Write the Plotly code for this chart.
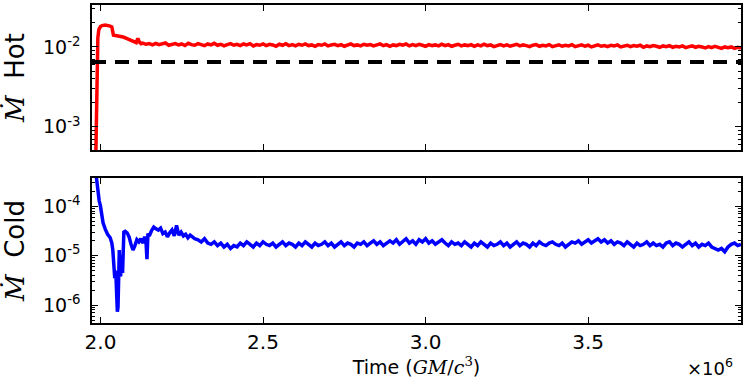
import numpy as np
import plotly.graph_objects as go
from plotly.subplots import make_subplots

# ---- data ----
# hot accretion rate, early transient (time in units of 1e6 GM/c^3, mdot in 1e-2)
hot_t_early = [1.983, 1.986, 1.988, 1.990, 1.992, 1.995, 2.000, 2.005, 2.010, 2.015,
               2.020, 2.025, 2.030, 2.035, 2.038, 2.040, 2.050, 2.060, 2.070, 2.080,
               2.090, 2.100, 2.110, 2.115, 2.120, 2.125]
hot_early = [0.01, 0.05, 0.2, 0.7, 1.3, 1.65, 1.8, 1.85, 1.88, 1.88,
             1.86, 1.85, 1.82, 1.78, 1.45, 1.40, 1.38, 1.36, 1.33, 1.28,
             1.22, 1.17, 1.13, 1.28, 1.15, 1.10]
# steady part, sampled every 0.01 from 2.13 to 3.97
hot_steady = [
    1.12, 1.08, 1.10, 1.06, 1.11, 1.07, 1.09, 1.12, 1.05, 1.08,
    1.10, 1.06, 1.09, 1.04, 1.11, 1.07, 1.05, 1.10, 1.08, 1.04,
    1.09, 1.06, 1.11, 1.05, 1.08, 1.03, 1.07, 1.10, 1.05, 1.08,
    1.04, 1.09, 1.06, 1.10, 1.03, 1.07, 1.05, 1.09, 1.04, 1.08,
    1.06, 1.02, 1.08, 1.05, 1.10, 1.04, 1.07, 1.03, 1.08, 1.05,
    1.09, 1.04, 1.06, 1.02, 1.07, 1.05, 1.09, 1.03, 1.06, 1.08,
    1.04, 1.07, 1.02, 1.06, 1.09, 1.04, 1.06, 1.03, 1.08, 1.05,
    1.07, 1.03, 1.06, 1.09, 1.04, 1.07, 1.02, 1.06, 1.04, 1.08,
    1.05, 1.09, 1.03, 1.07, 1.04, 1.08, 1.05, 1.02, 1.07, 1.04,
    1.06, 1.03, 1.08, 1.04, 1.07, 1.02, 1.05, 1.08, 1.03, 1.06,
    1.04, 1.07, 1.02, 1.06, 1.03, 1.08, 1.04, 1.06, 1.01, 1.05,
    1.07, 1.03, 1.06, 1.02, 1.05, 1.08, 1.03, 1.06, 1.04, 1.01,
    1.05, 1.07, 1.02, 1.05, 1.03, 1.07, 1.01, 1.04, 1.06, 1.02,
    1.05, 1.03, 1.07, 1.01, 1.04, 1.06, 1.02, 1.05, 1.00, 1.04,
    1.06, 1.02, 1.04, 1.01, 1.05, 1.03, 1.06, 1.00, 1.03, 1.05,
    1.01, 1.04, 1.02, 1.05, 0.99, 1.03, 1.01, 1.04, 1.02, 0.99,
    1.03, 1.01, 1.04, 0.99, 1.02, 1.00, 1.03, 0.98, 1.01, 1.03,
    0.99, 1.02, 1.00, 0.97, 1.01, 0.98, 1.02, 0.99, 0.96, 1.00,
    0.98, 1.00, 0.96, 0.99, 0.97]
hot_steady_start = 2.13

hot_reference = 6.5e-3  # dashed reference level

# cold accretion rate (mdot in 1e-5)
cold_t_early = [1.984, 1.988, 1.992, 1.996, 2.000, 2.004, 2.008, 2.015, 2.022, 2.030,
                2.035, 2.038, 2.041, 2.044, 2.047, 2.050, 2.052, 2.054, 2.056, 2.058,
                2.060, 2.062, 2.065, 2.068, 2.072, 2.076, 2.082, 2.088, 2.094, 2.100,
                2.106, 2.112, 2.118, 2.124, 2.130, 2.136, 2.140, 2.143, 2.146, 2.150,
                2.157, 2.164, 2.171, 2.178, 2.185, 2.192, 2.199, 2.206, 2.213, 2.220,
                2.227, 2.234, 2.241, 2.248, 2.255, 2.262, 2.269, 2.276, 2.283, 2.290]
cold_early = [60, 35, 20, 13, 10, 6.5, 4.6, 3.4, 2.7, 2.3,
              1.8, 1.3, 0.6, 0.35, 0.5, 0.12, 0.074, 0.09, 0.3, 1.3,
              0.5, 0.38, 1.0, 0.45, 3.0, 3.1, 2.9, 2.4, 1.7, 1.3,
              1.6, 2.1, 1.9, 2.2, 1.8, 2.4, 2.0, 0.85, 2.8, 2.5,
              3.2, 3.8, 3.5, 3.3, 3.6, 2.8, 3.0, 2.4, 2.9, 3.3,
              2.5, 4.1, 2.6, 3.0, 2.5, 2.7, 2.3, 2.6, 2.4, 2.2]
# steady part, sampled every 0.01 from 2.30 to 3.97
cold_steady = [
    2.1, 1.9, 2.2, 1.8, 1.7, 1.9, 1.6, 1.8, 1.5, 1.7,
    1.4, 1.6, 1.5, 1.8, 1.6, 1.9, 1.7, 1.5, 1.8, 1.6,
    1.9, 1.7, 1.6, 1.8, 1.5, 1.7, 1.9, 1.6, 1.8, 1.7,
    1.5, 1.8, 1.6, 1.9, 1.7, 1.5, 1.8, 1.6, 1.7, 1.9,
    1.6, 1.8, 1.5, 1.7, 1.9, 1.6, 1.8, 1.7, 1.5, 1.8,
    1.7, 1.9, 1.6, 1.8, 2.0, 1.7, 1.9, 1.6, 1.8, 2.0,
    1.8, 2.1, 1.7, 1.9, 2.2, 1.8, 2.0, 1.7, 2.1, 1.9,
    2.2, 1.8, 2.0, 1.7, 1.9, 2.1, 1.8, 1.6, 1.9, 1.7,
    1.8, 1.6, 1.9, 1.7, 1.5, 1.8, 1.6, 1.9, 1.7, 1.5,
    1.8, 1.6, 1.7, 1.9, 1.6, 1.8, 1.5, 1.7, 1.9, 1.6,
    1.8, 1.7, 1.5, 1.8, 1.6, 1.9, 1.7, 1.6, 1.8, 1.9,
    1.7, 1.6, 1.8, 1.5, 1.7, 1.9, 1.8, 2.0, 1.7, 1.9,
    2.1, 1.8, 2.0, 2.2, 1.9, 2.1, 1.8, 2.0, 1.7, 1.9,
    1.8, 1.6, 1.9, 1.7, 1.5, 1.8, 1.6, 1.7, 1.9, 1.6,
    1.8, 1.6, 1.7, 1.5, 1.8, 1.9, 1.6, 1.8, 1.7, 1.5,
    1.7, 1.9, 1.6, 1.8, 1.5, 1.7, 1.6, 1.8, 1.5, 1.4,
    1.3, 1.4, 1.2, 1.5, 1.7, 1.8, 1.6, 1.7]
cold_steady_start = 2.30
sample_step = 0.01

x_ticks = [2.0, 2.5, 3.0, 3.5]
x_range = [1.974, 3.97]

# ---- assemble series ----
hot_t = np.concatenate([hot_t_early, hot_steady_start + sample_step * np.arange(len(hot_steady))]) * 1e6
hot_y = np.concatenate([hot_early, hot_steady]) * 1e-2
cold_t = np.concatenate([cold_t_early, cold_steady_start + sample_step * np.arange(len(cold_steady))]) * 1e6
cold_y = np.concatenate([cold_early, cold_steady]) * 1e-5

fig = make_subplots(rows=2, cols=1, shared_xaxes=True, vertical_spacing=0.088)

fig.add_trace(go.Scatter(x=hot_t, y=hot_y, mode='lines',
                         line=dict(color='red', width=3.5), showlegend=False), row=1, col=1)
fig.add_trace(go.Scatter(x=[x_range[0] * 1e6, x_range[1] * 1e6], y=[hot_reference, hot_reference],
                         mode='lines', line=dict(color='black', width=4, dash='14px,9px'),
                         showlegend=False), row=1, col=1)
fig.add_trace(go.Scatter(x=cold_t, y=cold_y, mode='lines',
                         line=dict(color='blue', width=3.5), showlegend=False), row=2, col=1)

font = 'DejaVu Sans, sans-serif'
common_x = dict(range=[x_range[0] * 1e6, x_range[1] * 1e6], showline=True, linecolor='black',
                linewidth=1.5, mirror='ticks', ticks='inside', ticklen=6, tickcolor='black',
                tickvals=[v * 1e6 for v in x_ticks], ticktext=[f'{v:.1f}' for v in x_ticks],
                showgrid=False, zeroline=False, automargin=False,
                tickfont=dict(family=font, size=20, color='black'))
fig.update_xaxes(**common_x)
fig.update_xaxes(showticklabels=False, row=1, col=1)
fig.update_xaxes(title=dict(text='Time (<span style="font-family:DejaVu Serif"><i>GM</i>/<i>c</i><sup>3</sup></span>)',
                            font=dict(family=font, size=19, color='black'), standoff=8), row=2, col=1)


def minor_vals(lo, hi):
    return [m * 10.0 ** e for e in range(lo, hi) for m in range(2, 10)]


common_y = dict(type='log', showline=True, linecolor='black', linewidth=1.5, mirror='ticks',
                ticks='inside', ticklen=6, tickcolor='black', showgrid=False, zeroline=False,
                automargin=False, ticklabelstandoff=6,
                tickfont=dict(family=font, size=19, color='black'))
ylab = '<span style="font-family:DejaVu Serif"><i>Ṁ</i></span>  '
fig.update_yaxes(**common_y)
fig.update_yaxes(range=[-3.29, -1.475], tickvals=[1e-3, 1e-2],
                 ticktext=['10<sup>-3</sup>', '10<sup>-2</sup>'],
                 minor=dict(ticks='inside', ticklen=3, tickcolor='black', showgrid=False,
                            tickvals=minor_vals(-4, -1)),
                 title=dict(text=ylab + 'Hot', font=dict(family=font, size=26, color='black'), standoff=20),
                 row=1, col=1)
fig.update_yaxes(range=[-6.36, -3.43], tickvals=[1e-6, 1e-5, 1e-4],
                 ticktext=['10<sup>-6</sup>', '10<sup>-5</sup>', '10<sup>-4</sup>'],
                 minor=dict(ticks='inside', ticklen=3, tickcolor='black', showgrid=False,
                            tickvals=minor_vals(-7, -3)),
                 title=dict(text=ylab + 'Cold', font=dict(family=font, size=26, color='black'), standoff=20),
                 row=2, col=1)

fig.add_annotation(text='×10<sup>6</sup>', xref='paper', yref='paper', x=0.99, y=-0.095,
                   xanchor='right', yanchor='top', showarrow=False,
                   font=dict(family=font, size=18, color='black'))

fig.update_layout(width=748, height=386, margin=dict(l=92, r=7, t=5, b=63),
                  plot_bgcolor='white', paper_bgcolor='white')

# drop the browser's default page margin so the figure sits at the window's corner
fig.write_html("out.html", config={'displayModeBar': False},
               post_script="document.body.style.margin='0';")
